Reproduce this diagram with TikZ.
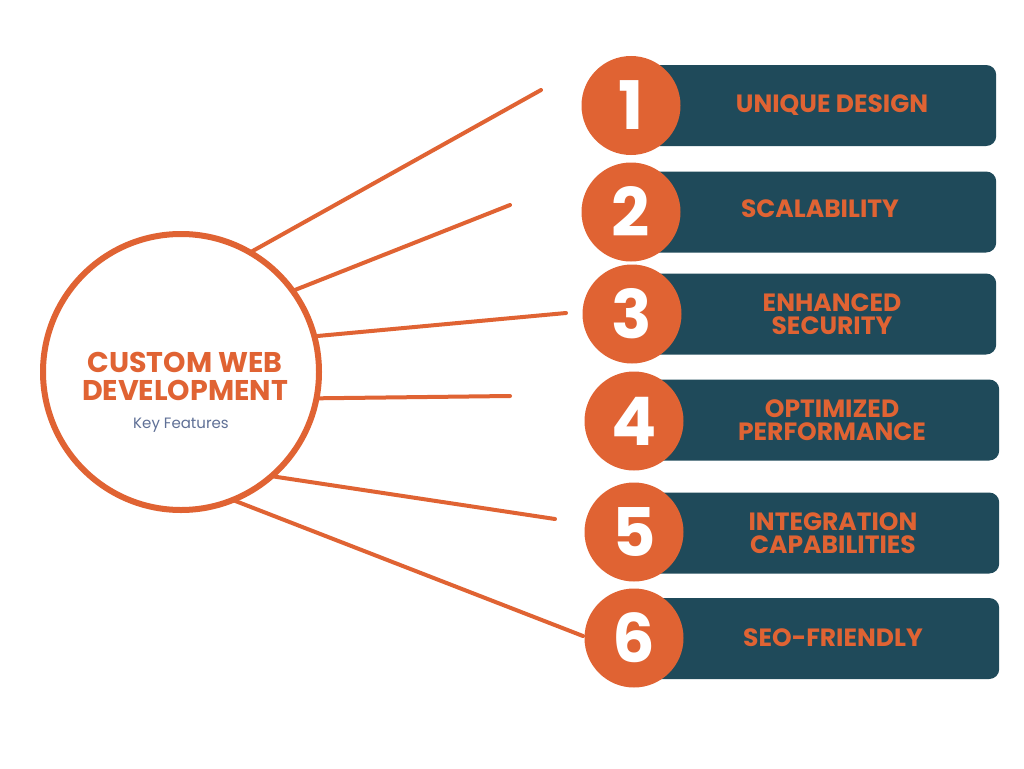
\documentclass[tikz,border=0pt]{standalone}
\usepackage{fontspec}
\setmainfont{Poppins}
\definecolor{orng}{RGB}{224,99,51}
\definecolor{teal}{RGB}{31,74,90}
\definecolor{keyc}{RGB}{95,112,150}
\begin{document}
\begin{tikzpicture}[x=1pt,y=-1pt,
  hub/.style={circle,draw=orng,line width=6pt,minimum size=276pt,inner sep=0pt,outer sep=0pt},
  ray/.style={draw=orng,line width=4pt,line cap=round},
  numc/.style={circle,fill=orng,minimum size=99pt,inner sep=0pt,text=white,font=\bfseries\fontsize{67}{67}\selectfont},
  bar/.style={rectangle,rounded corners=10pt,fill=teal,minimum width=358pt,minimum height=81pt,anchor=west,inner sep=0pt},
  bartxt/.style={text=orng,align=center,font=\bfseries\fontsize{25}{23}\selectfont,inner sep=0pt}]
\useasboundingbox[fill=white] (0,0) rectangle (1024,768);
% hub
\node[hub] (c) at (181,372) {};
\node[text=orng,align=center,font=\bfseries\fontsize{28.5}{28}\selectfont,inner sep=0pt] (title) at (185,376) {CUSTOM WEB\\DEVELOPMENT};
\node[text=keyc,font=\fontsize{15}{17}\selectfont,inner sep=0pt] (key) at (181,425) {Key Features};
% free ends
\coordinate (e1) at (541,90);
\coordinate (e2) at (510,205);
\coordinate (e3) at (566,313);
\coordinate (e4) at (510,396);
\coordinate (e5) at (555,519);
\coordinate (e6) at (583,636);
\draw[ray] (c.60.9) -- (e1);
\draw[ray] (c.36.1) -- (e2);
\draw[ray] (c.15.5) -- (e3);
\draw[ray] (c.-11.4) -- (e4);
\draw[ray] (c.-49.3) -- (e5);
\draw[ray] (c.-68.2) -- (e6);
% bars
\node[bar,minimum width=356pt] (b1) at (640,105.5) {};
\node[bar,minimum width=356pt] (b2) at (640,212) {};
\node[bar,minimum width=356pt] (b3) at (640,314) {};
\node[bar,minimum width=359pt] (b4) at (640,420) {};
\node[bar,minimum width=359pt] (b5) at (640,533) {};
\node[bar,minimum width=359pt] (b6) at (640,638.5) {};
% numbers
\node[numc] (n1) at (631,105.5) {1};
\node[numc] (n2) at (631,212) {2};
\node[numc] (n3) at (632,314) {3};
\node[numc] (n4) at (634,421) {4};
\node[numc] (n5) at (634,532) {5};
\node[numc] (n6) at (634,638) {6};
% labels
\node[bartxt] (t1) at (832,105.5) {UNIQUE DESIGN};
\node[bartxt] (t2) at (820,209) {SCALABILITY};
\node[bartxt] (t3) at (832,314) {ENHANCED\\SECURITY};
\node[bartxt] (t4) at (832,420) {OPTIMIZED\\PERFORMANCE};
\node[bartxt] (t5) at (833,533) {INTEGRATION\\CAPABILITIES};
\node[bartxt] (t6) at (833,638) {SEO-FRIENDLY};
\end{tikzpicture}
\end{document}
